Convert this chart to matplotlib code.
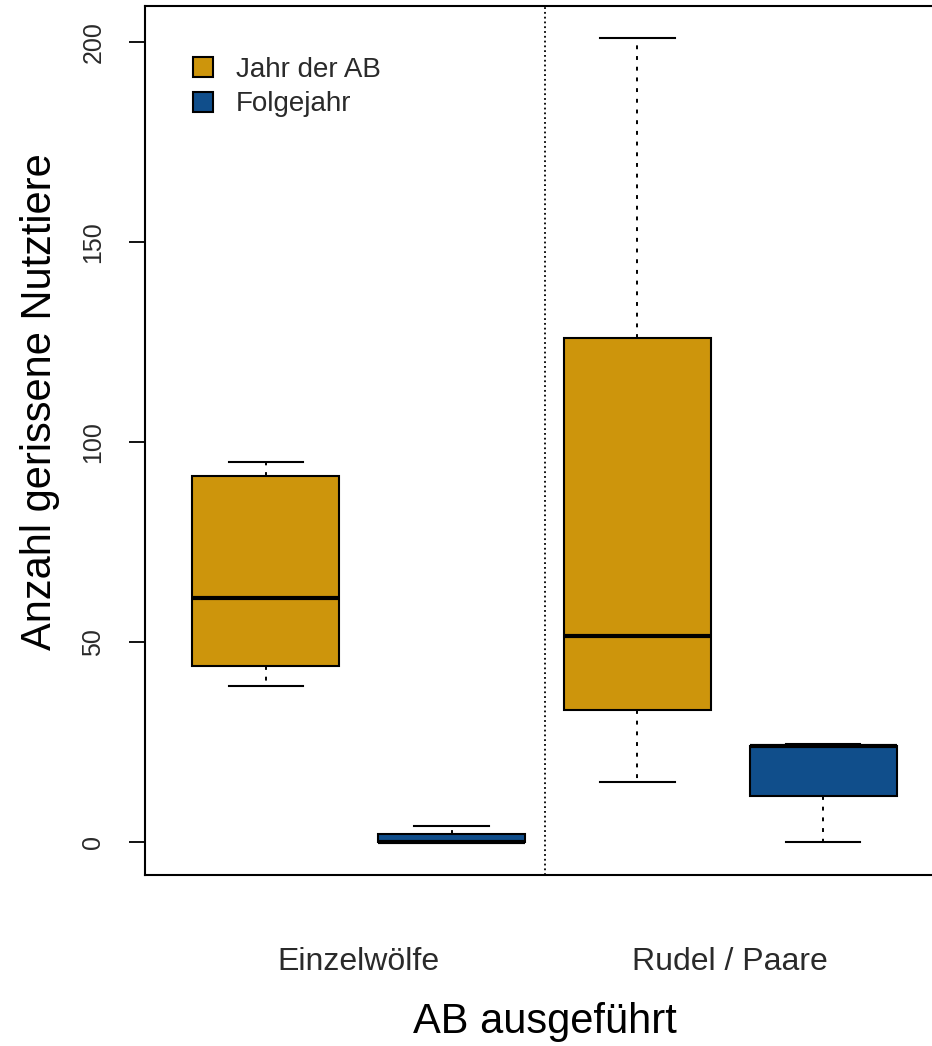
import matplotlib
matplotlib.use("Agg")
import matplotlib.pyplot as plt
from matplotlib.patches import Patch

plt.rcParams['font.family'] = ['Liberation Sans', 'DejaVu Sans']

# five-number summaries (whislo, q1, med, q3, whishi)
groups = ["Einzelwölfe", "Rudel / Paare"]
series = ["Jahr der AB", "Folgejahr"]
colors = ["#CD950C", "#104E8B"]   # darkgoldenrod3, dodgerblue4

einzel_jahr = [39, 44, 61, 91.5, 95]
einzel_folge = [0, 0, 0, 2, 4]
rudel_jahr = [15, 33, 51.5, 126, 201]
rudel_folge = [0, 11.5, 24, 24, 24.5]

boxes = [einzel_jahr, einzel_folge, rudel_jahr, rudel_folge]
box_colors = [colors[0], colors[1], colors[0], colors[1]]
positions = [1, 2, 3, 4]

stats = []
for b in boxes:
    stats.append(dict(whislo=b[0], q1=b[1], med=b[2], q3=b[3], whishi=b[4], fliers=[]))

fig = plt.figure(figsize=(9.32, 10.46), dpi=100)
W, H = 932, 1046
# plot region in pixels: left 145, right 944 (runs past the image), top 6, bottom 875
ax = fig.add_axes([145 / W, 1 - 875 / H, 799 / W, 869 / H])

bp = ax.bxp(stats, positions=positions, widths=0.79, patch_artist=True,
            showfliers=False, capwidths=0.4,
            boxprops=dict(linewidth=1.5, edgecolor="black"),
            medianprops=dict(linewidth=3, color="black", solid_capstyle="butt"),
            whiskerprops=dict(linewidth=1.4, color="black", linestyle=(0, (2, 3.5))),
            capprops=dict(linewidth=1.5, color="black"))
for patch, c in zip(bp["boxes"], box_colors):
    patch.set_facecolor(c)

ax.axvline(2.5, color="black", linestyle=":", linewidth=1.3)

ax.set_xlim(0.35, 4.65)
ax.set_ylim(-8.25, 209)

ax.set_yticks([0, 50, 100, 150, 200])
ax.tick_params(axis="y", length=11.5, width=1.3, pad=17, labelsize=18,
               labelcolor="#2a2a2a")
for lab in ax.get_yticklabels():
    lab.set_rotation(90)
    lab.set_va("center")

ax.set_xticks([1.5, 3.5])
ax.set_xticklabels(groups)
ax.tick_params(axis="x", length=0, pad=52, labelsize=23, labelcolor="#2a2a2a")

for s in ax.spines.values():
    s.set_linewidth(1.5)

ax.set_xlabel("AB ausgeführt", fontsize=30, va="center")
ax.xaxis.set_label_coords(0.5, (875 - 1022) / 869)
ax.set_ylabel("Anzahl gerissene Nutztiere", fontsize=30, va="center")
ax.yaxis.set_label_coords((40 - 145) / 799, (875 - 402) / 869)

handles = [Patch(facecolor=c, edgecolor="black", linewidth=1.5) for c in colors]
ax.legend(handles, series, loc="upper left", bbox_to_anchor=((193 - 145) / 799, (875 - 57) / 869),
          frameon=False, fontsize=20, handlelength=0.72, handleheight=0.72,
          handletextpad=0.83, labelspacing=0.3, borderpad=0, borderaxespad=0,
          labelcolor="#2a2a2a")

fig.savefig("out.png", dpi=100)
